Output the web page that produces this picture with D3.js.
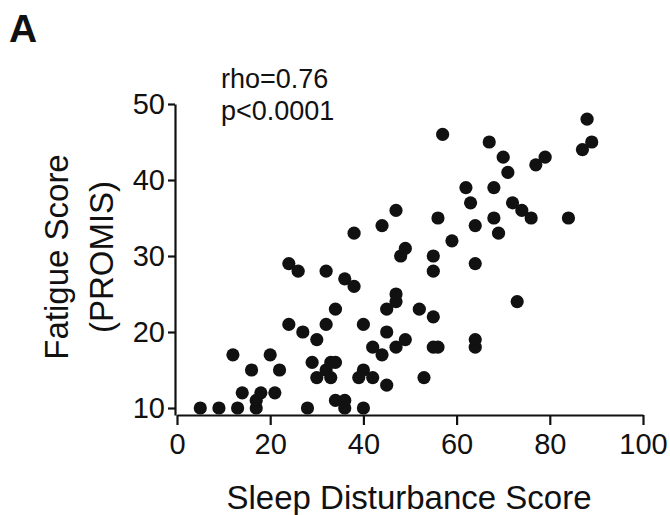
<!DOCTYPE html>
<html>
<head>
<meta charset="utf-8">
<script src="https://cdn.jsdelivr.net/npm/d3@7"></script>
<style>
  body { margin: 0; background: #fff; }
  svg text { font-family: "Liberation Sans", Arial, sans-serif; fill: #111; }
</style>
</head>
<body>
<svg id="chart" width="670" height="515"></svg>
<script>
// sleep disturbance score (x) vs fatigue score (y)
const sleepScore = [5, 9, 13, 17, 17, 18, 14, 21, 12, 20, 16, 22, 28, 24, 26, 32, 24, 27, 30, 32,
                    34, 29, 30, 32, 33, 34, 33, 34, 36, 36, 36, 38, 40, 40, 39, 42, 40, 42, 44, 45,
                    45, 45, 47, 47, 47, 49, 48, 49, 52, 55, 55, 55, 64, 55, 56, 64, 64, 53, 73, 38,
                    44, 47, 56, 57, 59, 62, 63, 64, 67, 68, 68, 69, 70, 71, 72, 74, 76, 77, 79, 84,
                    87, 88, 89];
const fatigueScore = [10, 10, 10, 10, 11, 12, 12, 12, 17, 17, 15, 15, 10, 29, 28, 28, 21, 20, 19, 21,
                      23, 16, 14, 15, 16, 16, 14, 11, 11, 10, 27, 26, 21, 15, 14, 14, 10, 18, 17, 13,
                      20, 23, 24, 25, 18, 19, 30, 31, 23, 22, 30, 28, 29, 18, 18, 19, 18, 14, 24, 33,
                      34, 36, 35, 46, 32, 39, 37, 34, 45, 39, 35, 33, 43, 41, 37, 36, 35, 42, 43, 35,
                      44, 48, 45];
const xTicks = [0, 20, 40, 60, 80, 100];
const yTicks = [10, 20, 30, 40, 50];

const points = sleepScore.map((s, i) => ({ x: s, y: fatigueScore[i] }));

const svg = d3.select("svg#chart");

const x = d3.scaleLinear().domain([0, 100]).range([177, 643]);
const y = d3.scaleLinear().domain([9.08, 50]).range([415, 104]);

// x axis
const gx = svg.append("g")
              .attr("transform", `translate(0, ${y(9.08)})`)
              .call(d3.axisBottom(x).tickValues(xTicks).tickSize(10).tickPadding(8).tickSizeOuter(0));

// y axis
const gy = svg.append("g")
              .attr("transform", `translate(175, 0)`)
              .call(d3.axisLeft(y).tickValues(yTicks).tickSize(7).tickPadding(3).tickSizeOuter(0));

[gx, gy].forEach(g => {
    g.select(".domain").attr("stroke", "#111").attr("stroke-width", 2.2);
    g.selectAll(".tick line").attr("stroke", "#111").attr("stroke-width", 2.2);
    g.selectAll(".tick text")
     .attr("font-family", "Liberation Sans, Arial, sans-serif")
     .attr("font-size", 29)
     .attr("fill", "#111");
});
gx.selectAll(".tick text").attr("dy", "0.74em");

// dots
svg.append("g")
   .selectAll("circle")
   .data(points)
   .enter().append("circle")
           .attr("cx", d => x(d.x))
           .attr("cy", d => y(d.y))
           .attr("r", 6.6)
           .attr("fill", "#111");

// annotation
svg.append("text").attr("x", 221).attr("y", 88).attr("font-size", 27).text("rho=0.76");
svg.append("text").attr("x", 221).attr("y", 120).attr("font-size", 27).text("p<0.0001");

// panel letter
svg.append("text").attr("x", 9).attr("y", 42).attr("font-size", 39).attr("font-weight", "bold").text("A");

// axis titles
svg.append("text")
   .attr("x", 409).attr("y", 509)
   .attr("text-anchor", "middle")
   .attr("font-size", 33)
   .text("Sleep Disturbance Score");

const yTitle = svg.append("text")
                  .attr("transform", "translate(0, 257) rotate(-90)")
                  .attr("text-anchor", "middle")
                  .attr("font-size", 33);
yTitle.append("tspan").attr("x", 0).attr("y", 68).text("Fatigue Score");
yTitle.append("tspan").attr("x", 0).attr("y", 113).text("(PROMIS)");
</script>
</body>
</html>
